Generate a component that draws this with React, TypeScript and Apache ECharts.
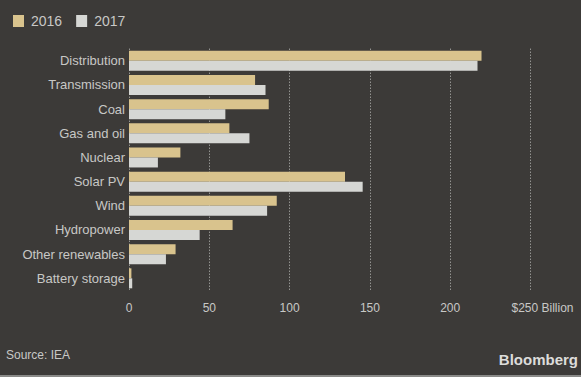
import React, { useEffect, useRef } from "react";
import * as echarts from "echarts";

const categories = [
  "Distribution",
  "Transmission",
  "Coal",
  "Gas and oil",
  "Nuclear",
  "Solar PV",
  "Wind",
  "Hydropower",
  "Other renewables",
  "Battery storage",
];
const values2016 = [219.5, 78.5, 87, 62.5, 32, 134.5, 92, 64.5, 29, 1.5];
const values2017 = [217, 85, 60, 75, 18, 145.5, 86, 44, 23, 2];
const tickValues = [0, 50, 100, 150, 200, 250];

const BG = "#3c3a38";
const GOLD = "#d9c38d";
const GREY = "#d6d7d4";
const TEXT = "#c8c8c6";
const FONT = "'Liberation Sans', Arial, sans-serif";

export default function App() {
  const ref = useRef<HTMLDivElement>(null);
  useEffect(() => {
    document.body.style.margin = "0";
    if (!ref.current) return;
    const chart = echarts.init(ref.current, undefined, { renderer: "svg" });
    chart.setOption({
      animation: false,
      backgroundColor: BG,
      textStyle: { fontFamily: FONT },
      legend: {
        left: 8,
        top: 9,
        icon: "rect",
        itemWidth: 11,
        itemHeight: 12,
        itemGap: 14,
        textStyle: { color: TEXT, fontSize: 14, fontFamily: FONT, padding: [0, 0, 0, 2] },
        data: ["2016", "2017"],
      },
      grid: { left: 129, right: 50.5, top: 48.7, bottom: 86.6, containLabel: false },
      xAxis: {
        type: "value",
        min: 0,
        max: 250,
        interval: 50,
        axisLine: { show: false },
        axisTick: { show: false },
        splitLine: {
          show: true,
          lineStyle: { color: "#bdbdbb", type: [1, 2], width: 1 },
        },
        axisLabel: {
          color: TEXT,
          fontSize: 12,
          fontFamily: FONT,
          margin: 12,
          formatter: (v: number) =>
            tickValues.indexOf(v) === tickValues.length - 1 ? "{b|$" + v + " Billion}" : String(v),
          rich: { b: { color: TEXT, fontSize: 12, fontFamily: FONT, padding: [0, 0, 0, 24] } },
        },
      },
      yAxis: {
        type: "category",
        data: categories,
        inverse: true,
        axisLine: { show: false },
        axisTick: { show: false },
        splitLine: { show: false },
        axisLabel: { color: TEXT, fontSize: 13, fontFamily: FONT, margin: 4 },
      },
      series: [
        {
          name: "2016",
          type: "bar",
          data: values2016,
          barWidth: 10,
          barGap: "0%",
          itemStyle: { color: GOLD },
        },
        {
          name: "2017",
          type: "bar",
          data: values2017,
          barWidth: 10,
          barGap: "0%",
          itemStyle: { color: GREY },
        },
      ],
      graphic: [
        {
          type: "text",
          left: 6,
          top: 349,
          style: { text: "Source: IEA", fill: TEXT, fontSize: 12, fontFamily: FONT },
        },
        {
          type: "text",
          right: 3,
          top: 352,
          style: {
            text: "Bloomberg",
            fill: "#dcdcda",
            fontSize: 15,
            fontWeight: "bold",
            fontFamily: FONT,
          },
        },
        {
          type: "rect",
          left: 0,
          top: 375,
          shape: { width: 581, height: 2 },
          style: { fill: "#8a8a88" },
        },
      ],
    });
    return () => chart.dispose();
  }, []);
  return <div ref={ref} style={{ width: 581, height: 377 }} />;
}
